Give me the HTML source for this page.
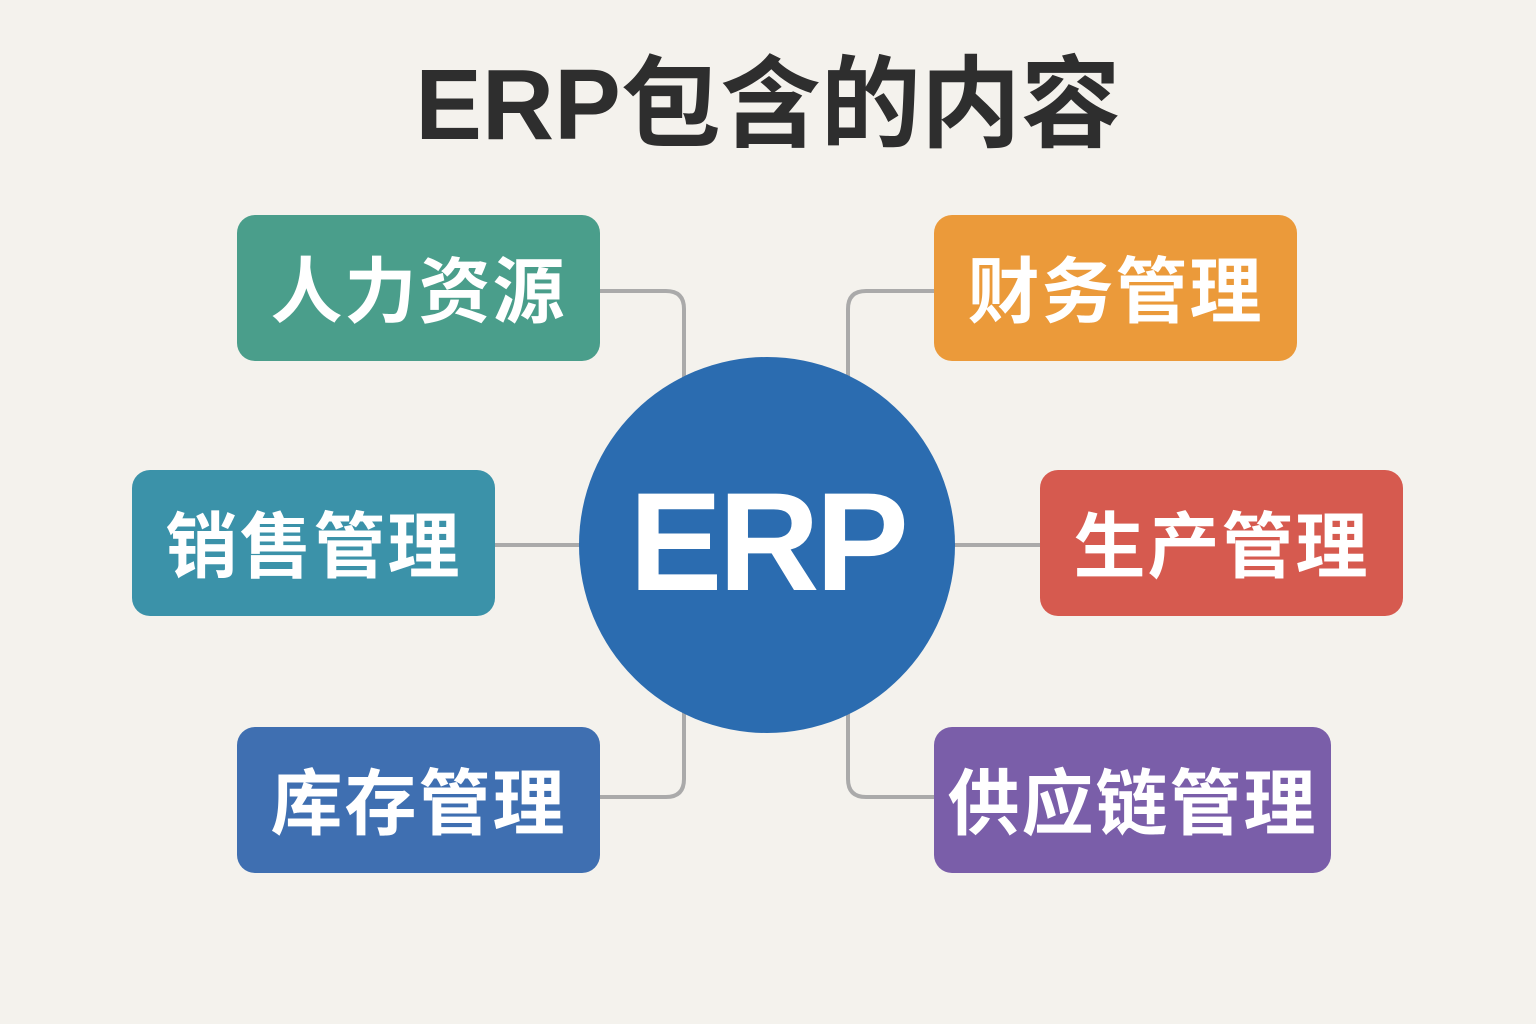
<!DOCTYPE html>
<html><head><meta charset="utf-8"><style>
html,body{margin:0;padding:0;}
body{width:1536px;height:1024px;background:#f4f2ed;position:relative;overflow:hidden;font-family:"Liberation Sans","Noto Sans CJK SC",sans-serif;}
.t{position:absolute;left:0;width:1536px;top:50px;text-align:center;font-size:100px;font-weight:bold;color:#2e2e2e;line-height:110px;}
.b{position:absolute;width:363px;height:146px;border-radius:18px;color:#fff;font-size:72px;font-weight:bold;line-height:156px;text-align:center;letter-spacing:2px;}
.c{position:absolute;left:579px;top:357px;width:376px;height:376px;border-radius:50%;background:#2b6cb0;color:#fff;font-size:140px;font-weight:bold;line-height:370px;text-align:center;font-family:"Liberation Sans",sans-serif;letter-spacing:-4px;}
svg{position:absolute;left:0;top:0;}
</style></head><body>
<div class="t">ERP包含的内容</div>
<svg width="1536" height="1024" fill="none" stroke="#aaaaaa" stroke-width="4">
<path d="M600 291 H666 Q684 291 684 309 V380"/>
<path d="M934 291 H866 Q848 291 848 309 V380"/>
<path d="M600 797 H666 Q684 797 684 779 V710"/>
<path d="M934 797 H866 Q848 797 848 779 V710"/>
<path d="M495 545 H582"/>
<path d="M952 545 H1040"/>
</svg>
<div class="b" style="left:237px;top:215px;background:#4a9e8b;">人力资源</div>
<div class="b" style="left:132px;top:470px;background:#3b92a9;">销售管理</div>
<div class="b" style="left:237px;top:727px;background:#3f6fb1;">库存管理</div>
<div class="b" style="left:934px;top:215px;background:#eb9a3a;">财务管理</div>
<div class="b" style="left:1040px;top:470px;background:#d65a4f;">生产管理</div>
<div class="b" style="left:934px;top:727px;width:397px;background:#7a5ea9;">供应链管理</div>
<div class="c">ERP</div>
</body></html>
